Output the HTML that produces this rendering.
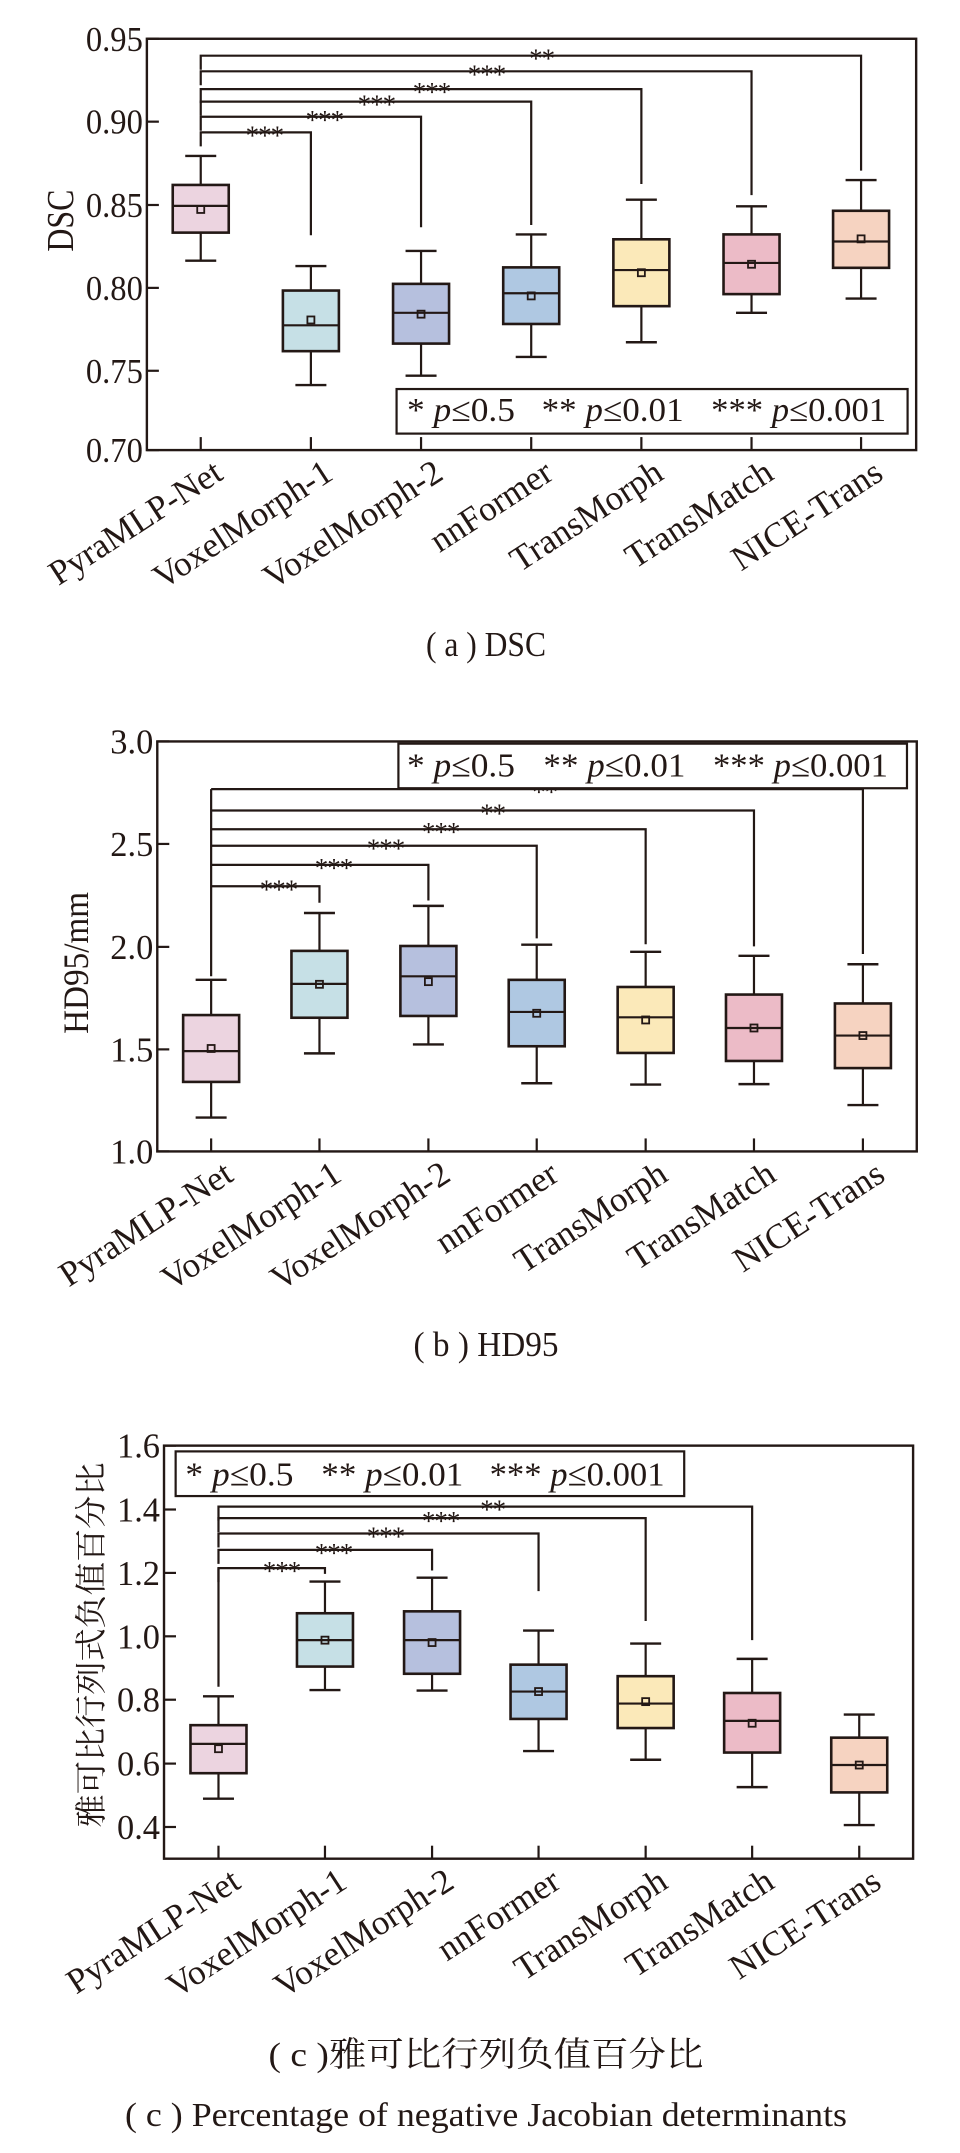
<!DOCTYPE html>
<html><head><meta charset="utf-8">
<style>
html,body{margin:0;padding:0;background:#fff;}
svg{display:block;}
text{font-family:"Liberation Serif","Noto Serif CJK SC",serif;fill:#231815;}
</style></head>
<body>
<svg id="s" width="960" height="2153" viewBox="0 0 960 2153" xmlns="http://www.w3.org/2000/svg"></svg>
<script>
const SX=1.634;
const cols=['#ecd4e0','#c6e0e6','#b6c0de','#afc8e2','#fbe9b9','#ecbbc7','#f6d3c1'];
const names=['PyraMLP-Net','VoxelMorph-1','VoxelMorph-2','nnFormer','TransMorph','TransMatch','NICE-Trans'];
const K='#231815';
let out='';
function chart(c){
  const X=x=>x/SX, Y=y=>c.off+y/c.sy;
  const [fl,ft,fr,fb]=c.frame;
  c.cats.forEach((cx,i)=>{
    const b=c.boxes[i]; const x=X(cx);
    const hw=28, cw=15.5;
    out+=`<line x1="${x}" y1="${Y(b[0])}" x2="${x}" y2="${Y(b[4])}" stroke="${K}" stroke-width="2.2"/>`;
    out+=`<line x1="${x-cw}" y1="${Y(b[0])}" x2="${x+cw}" y2="${Y(b[0])}" stroke="${K}" stroke-width="2.4"/>`;
    out+=`<line x1="${x-cw}" y1="${Y(b[4])}" x2="${x+cw}" y2="${Y(b[4])}" stroke="${K}" stroke-width="2.4"/>`;
    out+=`<rect x="${x-hw}" y="${Y(b[1])}" width="${2*hw}" height="${Y(b[3])-Y(b[1])}" fill="${cols[i]}" stroke="${K}" stroke-width="2.6"/>`;
    out+=`<line x1="${x-hw}" y1="${Y(b[2])}" x2="${x+hw}" y2="${Y(b[2])}" stroke="${K}" stroke-width="2.2"/>`;
    out+=`<rect x="${x-3.5}" y="${Y(b[5])-3.5}" width="7" height="7" fill="none" stroke="${K}" stroke-width="1.8"/>`;
    out+=`<line x1="${x}" y1="${Y(fb)}" x2="${x}" y2="${Y(fb)-13}" stroke="${K}" stroke-width="2.2"/>`;
    const lx=x+24, ly=Y(fb)+28;
    out+=`<text x="${lx}" y="${ly}" font-size="35" text-anchor="end" transform="rotate(-33 ${lx} ${ly})">${names[i]}</text>`;
  });
  const lx=X(c.cats[0]);
  c.br.forEach(b=>{
    const [ly,rx,dy,st,sx]=b;
    out+=`<polyline points="${lx},${Y(ly)+c.ld} ${lx},${Y(ly)} ${X(rx)},${Y(ly)} ${X(rx)},${Y(dy)}" fill="none" stroke="${K}" stroke-width="2.2"/>`;
    out+=`<text x="${X(sx)}" y="${Y(ly)+12}" font-size="27" text-anchor="middle" letter-spacing="-1">${st}</text>`;
  });
  if(c.lv) out+=`<line x1="${lx}" y1="${Y(c.lv[0])}" x2="${lx}" y2="${Y(c.lv[1])}" stroke="${K}" stroke-width="2.2"/>`;
  out+=`<rect x="${X(fl)}" y="${Y(ft)}" width="${X(fr)-X(fl)}" height="${Y(fb)-Y(ft)}" fill="none" stroke="${K}" stroke-width="2.4"/>`;
  c.yt.forEach(t=>{
    out+=`<line x1="${X(fl)}" y1="${Y(t[0])}" x2="${X(fl)+12}" y2="${Y(t[0])}" stroke="${K}" stroke-width="2.2"/>`;
    const w=t[1].length===4?57:43;
    out+=`<text x="${X(fl)-4}" y="${Y(t[0])+12}" font-size="35" text-anchor="end" textLength="${w}" lengthAdjust="spacingAndGlyphs">${t[1]}</text>`;
  });
  const L=c.leg;
  out+=`<rect x="${X(L[0])}" y="${Y(L[1])}" width="${X(L[2])-X(L[0])}" height="${Y(L[3])-Y(L[1])}" fill="#fff" stroke="${K}" stroke-width="2.2"/>`;
  const parts=[['*','0.5',108],['**','0.01',142],['***','0.001',175]];
  parts.forEach((p,i)=>{
    out+=`<text x="${X(c.lt[i])}" y="${Y(c.lb)}" font-size="34" textLength="${p[2]}" lengthAdjust="spacingAndGlyphs">${p[0]} <tspan font-style="italic">p</tspan>≤${p[1]}</text>`;
  });
  const [yx,yy,ytxt,ylen,yfs]=c.ylab;
  out+=`<text x="${X(yx)}" y="${Y(yy)}" font-size="${yfs}" text-anchor="middle" dominant-baseline="middle" transform="rotate(-90 ${X(yx)} ${Y(yy)})" textLength="${ylen}" lengthAdjust="spacingAndGlyphs">${ytxt}</text>`;
}
chart({off:0,sy:2.244,frame:[240,87,1497,1010],ld:14,
 yt:[[87,'0.95'],[273,'0.90'],[460,'0.85'],[646,'0.80'],[832,'0.75'],[1010,'0.70']],
 cats:[328,508,688,868,1048,1228,1407],
 boxes:[[350,415,462,522,585,470],[597,652,730,788,864,718],[563,637,702,771,843,705],[526,600,658,727,801,664],[448,537,606,687,768,612],[463,526,590,660,702,593],[404,473,542,601,670,536]],
 br:[[297,508,528,'***',432],[262,688,510,'***',530],[228,868,505,'***',615],[200,1048,413,'***',705],[160,1228,438,'***',795],[125,1407,383,'**',885]],
 leg:[648,873,1483,973],lt:[665,885,1162],lb:945,
 ylab:[105,495,'DSC',62,38]});
chart({off:700,sy:2.244,frame:[257,93,1498,1013],ld:0,
 yt:[[93,'3.0'],[323,'2.5'],[554,'2.0'],[784,'1.5'],[1013,'1.0']],
 cats:[345,522,700,877,1055,1232,1410],
 boxes:[[628,707,788,857,937,782],[478,563,637,713,793,638],[462,552,620,709,773,632],[549,628,700,777,860,703],[565,644,712,792,863,718],[574,661,736,810,862,736],[593,681,753,826,909,753]],
 br:[[418,522,455,'***',455],[370,700,450,'***',545],[327,877,535,'***',630],[290,1055,548,'***',720],[248,1232,553,'**',805],[200,1410,570,'**',890]],
 lv:[200,620],
 leg:[651,98,1482,198],lt:[665,888,1165],lb:172,
 ylab:[130,590,'HD95/mm',142,36]});
chart({off:1400,sy:2.082,frame:[268,95,1492,955],ld:14,
 yt:[[95,'1.6'],[228,'1.4'],[360,'1.2'],[492,'1.0'],[624,'0.8'],[757,'0.6'],[889,'0.4']],
 cats:[357,531,706,880,1055,1229,1404],
 boxes:[[617,677,716,777,830,726],[378,444,500,555,604,500],[370,440,500,570,605,505],[480,551,607,664,731,607],[507,575,632,683,749,628],[539,610,668,734,806,673],[655,703,760,817,885,760]],
 br:[[350,531,362,'***',460],[312,706,355,'***',545],[278,880,398,'***',630],[246,1055,460,'***',720],[222,1229,500,'**',805]],
 lv:[350,597],
 leg:[287,107,1118,200],lt:[303,525,800],lb:178,
 ylab:[155,510,'雅可比行列式负值百分比',365,32]});
out+=`<text x="486" y="656" font-size="35" text-anchor="middle" textLength="120" lengthAdjust="spacingAndGlyphs">( a ) DSC</text>`;
out+=`<text x="486" y="1356" font-size="35" text-anchor="middle" textLength="145" lengthAdjust="spacingAndGlyphs">( b ) HD95</text>`;
out+=`<text x="486" y="2066" font-size="34" text-anchor="middle" textLength="435" lengthAdjust="spacingAndGlyphs">( c )雅可比行列负值百分比</text>`;
out+=`<text x="486" y="2126" font-size="34" text-anchor="middle" textLength="722" lengthAdjust="spacingAndGlyphs">( c ) Percentage of negative Jacobian determinants</text>`;
document.getElementById('s').innerHTML=out;
</script>
</body></html>
